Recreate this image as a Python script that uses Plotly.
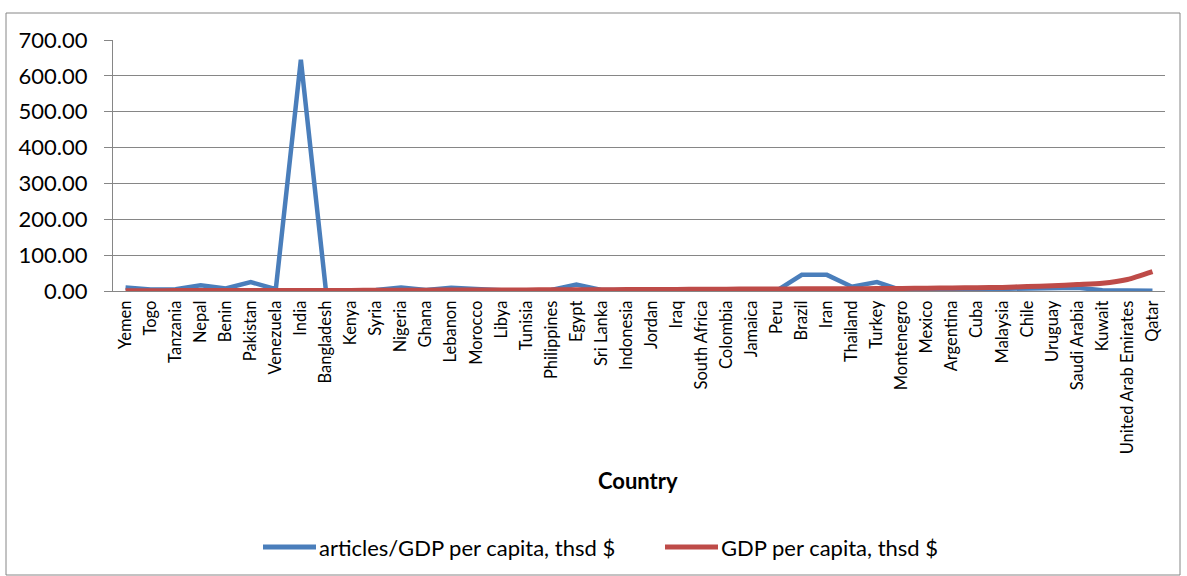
import plotly.graph_objects as go

countries = ["Yemen", "Togo", "Tanzania", "Nepal", "Benin", "Pakistan", "Venezuela", "India",
             "Bangladesh", "Kenya", "Syria", "Nigeria", "Ghana", "Lebanon", "Morocco", "Libya",
             "Tunisia", "Philippines", "Egypt", "Sri Lanka", "Indonesia", "Jordan", "Iraq",
             "South Africa", "Colombia", "Jamaica", "Peru", "Brazil", "Iran", "Thailand", "Turkey",
             "Montenegro", "Mexico", "Argentina", "Cuba", "Malaysia", "Chile", "Uruguay",
             "Saudi Arabia", "Kuwait", "United Arab Emirates", "Qatar"]

articles_per_gdp = [10, 4, 5, 16, 7, 25, 5, 645,
                    2, 3, 3, 10, 3, 9, 4, 2,
                    2, 3, 18, 3, 3, 3, 2,
                    5, 2, 1, 1, 45, 45, 12, 25,
                    2, 3, 3, 2, 6, 4, 5,
                    9, 2, 1, 0.8]

gdp_per_capita = [1.0, 1.0, 1.1, 1.2, 1.3, 1.4, 1.5, 1.5,
                  1.6, 1.7, 2.0, 2.2, 2.4, 2.6, 2.9, 3.0,
                  3.1, 3.3, 3.5, 3.7, 3.9, 4.2, 4.4,
                  5.0, 5.2, 5.3, 5.5, 6.0, 6.2, 6.4, 6.8,
                  7.2, 8.0, 8.5, 9.0, 10.0, 12.5, 14.5,
                  18.0, 21.5, 32.0, 54.0]

yticks = [0, 100, 200, 300, 400, 500, 600, 700]

series_names = ["articles/GDP per capita, thsd $", "GDP per capita, thsd $"]
colors = ["#4A7EBB", "#BE4B48"]

W, H = 1187, 576
L, R, T, B = 113, 22, 40, 285
PW, PH = W - L - R, H - T - B


def px(x):
    return (x - L) / PW


def py(y):
    return (H - B - y) / PH


FONT = "Lato"
GRID = "#868686"

fig = go.Figure()
fig.add_trace(go.Scatter(x=countries, y=articles_per_gdp, mode="lines",
                         name=series_names[0], line=dict(color=colors[0], width=4.5)))
fig.add_trace(go.Scatter(x=countries, y=gdp_per_capita, mode="lines",
                         name=series_names[1],
                         line=dict(color=colors[1], width=5, shape="spline", smoothing=0.6)))

fig.update_layout(
    width=W, height=H,
    margin=dict(l=L, r=R, t=T, b=B),
    paper_bgcolor="white", plot_bgcolor="white",
    showlegend=False,
    font=dict(family=FONT, color="black"),
)
fig.update_xaxes(
    type="category", range=[-0.5, len(countries) - 0.5],
    tickangle=-90, tickfont=dict(size=16.5, family=FONT, color="black"),
    showgrid=False, showline=True, linecolor=GRID, linewidth=1,
    ticks="", ticklabelstandoff=2,
)
fig.update_yaxes(
    range=[0, 700], tickvals=yticks, tickformat=".2f",
    tickfont=dict(size=22, family=FONT, color="black"),
    showgrid=True, gridcolor=GRID, gridwidth=1,
    showline=True, linecolor=GRID, linewidth=1,
    ticks="outside", ticklen=8, tickcolor=GRID,
    zeroline=False, ticklabelstandoff=12,
)

shapes = [
    dict(type="rect", xref="paper", yref="paper",
         x0=px(6), x1=px(1180), y0=py(575), y1=py(13),
         line=dict(color=GRID, width=1), fillcolor="rgba(0,0,0,0)", layer="below"),
    dict(type="line", xref="paper", yref="paper", x0=px(263), x1=px(316), y0=py(547), y1=py(547),
         line=dict(color=colors[0], width=5)),
    dict(type="line", xref="paper", yref="paper", x0=px(665), x1=px(718), y0=py(547), y1=py(547),
         line=dict(color=colors[1], width=5)),
]
annotations = [
    dict(text="<b>Country</b>", xref="paper", yref="paper", x=px(638), y=py(480),
         xanchor="center", yanchor="middle", showarrow=False,
         font=dict(size=22, family=FONT, color="black")),
    dict(text=series_names[0], xref="paper", yref="paper", x=px(317), y=py(547),
         xanchor="left", yanchor="middle", showarrow=False,
         font=dict(size=22, family=FONT, color="black")),
    dict(text=series_names[1], xref="paper", yref="paper", x=px(719), y=py(547),
         xanchor="left", yanchor="middle", showarrow=False,
         font=dict(size=22, family=FONT, color="black")),
]
fig.update_layout(shapes=shapes, annotations=annotations)

fig.write_html("out.html")
